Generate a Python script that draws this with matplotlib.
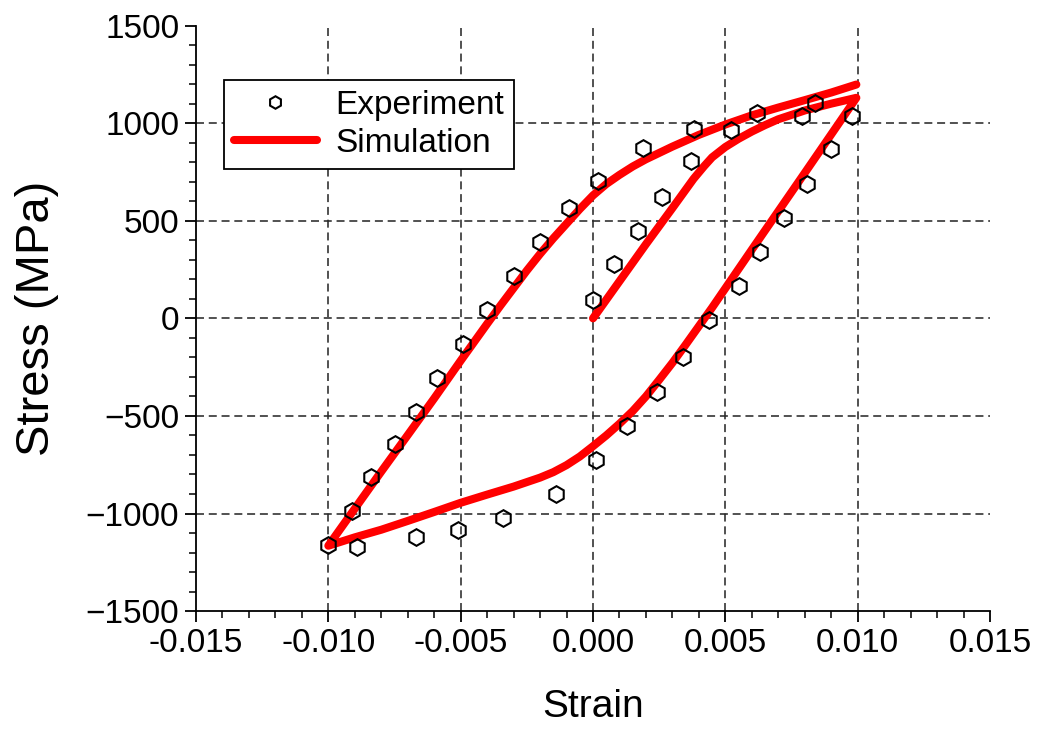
import numpy as np
import matplotlib.pyplot as plt
from matplotlib.ticker import MultipleLocator, FormatStrFormatter

plt.rcParams['font.family'] = ['Liberation Sans', 'DejaVu Sans']

# experimental points: initial loading, unloading, reloading
exp_strain = [0.0000, 0.0008, 0.0017, 0.0026, 0.0037, 0.0052, 0.0079, 0.0098,
              0.0090, 0.0081, 0.0072, 0.0063, 0.0055, 0.0044, 0.0034, 0.0024,
              0.0013, 0.0001, -0.0014, -0.0034, -0.0051, -0.0067, -0.0089, -0.0100,
              -0.0091, -0.0084, -0.0075, -0.0067, -0.0059, -0.0049, -0.0040, -0.0030,
              -0.0020, -0.0009, 0.0002, 0.0019, 0.0038, 0.0062, 0.0084]
exp_stress = [95, 276, 448, 621, 808, 965, 1035, 1035,
              866, 688, 513, 339, 168, -10, -196, -375,
              -549, -728, -900, -1021, -1083, -1122, -1172, -1161,
              -986, -815, -646, -480, -306, -131, 44, 216,
              391, 565, 706, 873, 972, 1051, 1105]

# simulated path: loading from zero, unloading, reloading
load_strain = [0.0, 0.001, 0.002, 0.003, 0.0038, 0.0042, 0.0045, 0.005, 0.0055,
               0.006, 0.0065, 0.007, 0.008, 0.009, 0.00995]
load_stress = [0, 190, 380, 565, 715, 780, 825, 878, 920,
               957, 990, 1020, 1065, 1100, 1130]
unload_strain = [0.008, 0.006, 0.0045, 0.004, 0.0035, 0.003, 0.0025, 0.002,
                 0.0015, 0.001, 0.0005, 0.0, -0.0005, -0.001, -0.0015, -0.002,
                 -0.003, -0.004, -0.005, -0.006, -0.007, -0.008, -0.009, -0.01]
unload_stress = [745, 352, 55, -40, -135, -228, -315, -400,
                 -475, -540, -600, -655, -708, -752, -788, -816,
                 -862, -903, -945, -992, -1038, -1083, -1122, -1165]
reload_strain = [-0.0095, -0.009, -0.008, -0.007, -0.006, -0.005, -0.004, -0.0035,
                 -0.003, -0.0025, -0.002, -0.0015, -0.001, -0.0005, 0.0, 0.0005,
                 0.001, 0.0015, 0.002, 0.003, 0.004, 0.005, 0.006, 0.007, 0.008,
                 0.009, 0.00995]
reload_stress = [-1070, -975, -785, -598, -410, -217, -28, 65,
                 155, 245, 330, 410, 485, 560, 630, 688,
                 735, 778, 815, 880, 940, 993, 1040, 1080, 1118,
                 1157, 1198]

sim_strain = load_strain + unload_strain + reload_strain
sim_stress = load_stress + unload_stress + reload_stress

fig = plt.figure(figsize=(10.37, 7.31), dpi=100)
ax = fig.add_axes([0.189, 0.164, 0.7657, 0.801])

ax.plot(sim_strain, sim_stress, color='#ff0000', lw=5.8, solid_joinstyle='round',
        solid_capstyle='round', label='Simulation', zorder=2)
ax.plot(exp_strain, exp_stress, ls='none', marker='h', ms=12, mfc='none',
        mec='black', mew=1.5, label='Experiment', zorder=3)

ax.set_xlim(-0.015, 0.015)
ax.set_ylim(-1500, 1500)
ax.xaxis.set_major_locator(MultipleLocator(0.005))
ax.xaxis.set_minor_locator(MultipleLocator(0.001))
ax.yaxis.set_major_locator(MultipleLocator(500))
ax.yaxis.set_minor_locator(MultipleLocator(100))
ax.xaxis.set_major_formatter(FormatStrFormatter('%.3f'))

ax.grid(True, which='major', color='#2a2a2a', lw=1.15, ls=(0, (5, 3)))
# no grid lines on the frame edges
fig.canvas.draw()
for axis, lims in ((ax.xaxis, ax.get_xlim()), (ax.yaxis, ax.get_ylim())):
    for t in axis.get_major_ticks():
        if np.isclose(t.get_loc(), lims[0]) or np.isclose(t.get_loc(), lims[1]):
            t.gridline.set_visible(False)

ax.spines['top'].set_visible(False)
ax.spines['right'].set_visible(False)
for s in ['left', 'bottom']:
    ax.spines[s].set_linewidth(1.3)
ax.tick_params(which='major', direction='out', length=8, width=1.3, labelsize=24, pad=4)
ax.tick_params(which='minor', direction='out', length=5, width=1.1)

ax.set_xlabel('Strain', fontsize=28, labelpad=22)
ax.set_ylabel('Stress (MPa)', fontsize=34, labelpad=19)

handles, labels = ax.get_legend_handles_labels()
leg = ax.legend(handles[::-1], labels[::-1], loc='upper left',
                bbox_to_anchor=(0.035, 0.907), fontsize=24, frameon=True,
                fancybox=False, edgecolor='black', framealpha=1,
                handlelength=2.5, handletextpad=0.55, borderpad=0.3,
                labelspacing=0.2, markerscale=0.75, borderaxespad=0)
leg.get_frame().set_linewidth(1.3)

fig.savefig('out.png', dpi=100)
